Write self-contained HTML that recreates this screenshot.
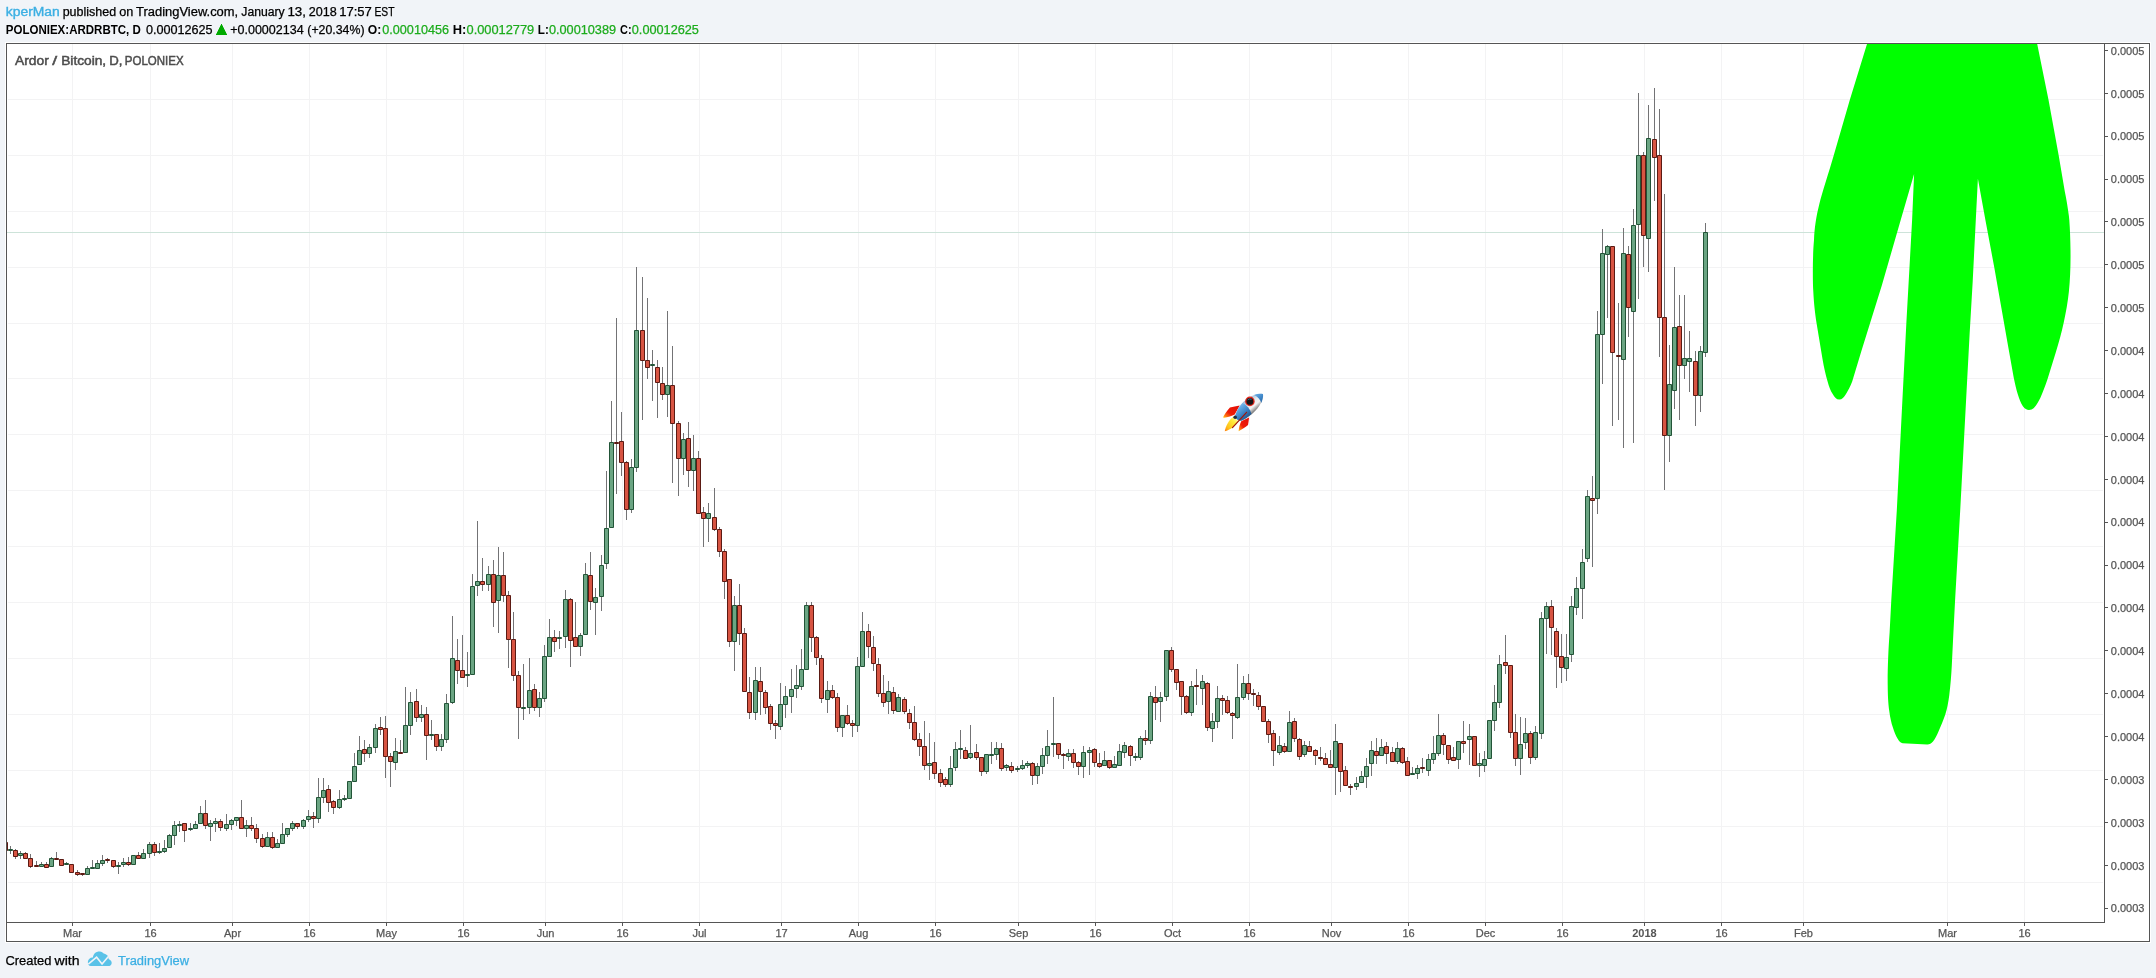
<!DOCTYPE html>
<html><head><meta charset="utf-8"><title>ARDRBTC chart</title>
<style>html,body{margin:0;padding:0;background:#F1F4F8;width:2156px;height:978px;overflow:hidden}</style></head>
<body>
<svg width="2156" height="978" viewBox="0 0 2156 978" style="position:absolute;left:0;top:0;will-change:transform;font-family:'Liberation Sans',sans-serif">
<defs>
<clipPath id="pane"><rect x="7" y="44" width="2097" height="878"/></clipPath>
<linearGradient id="rb" gradientUnits="userSpaceOnUse" x1="533" y1="308" x2="687" y2="492"><stop offset="0" stop-color="#9dbbd6"/><stop offset="0.35" stop-color="#e9edf0"/><stop offset="0.6" stop-color="#f2f2f2"/><stop offset="0.85" stop-color="#8c8c8c"/><stop offset="1" stop-color="#4f4f4f"/></linearGradient>
<linearGradient id="rbl" gradientUnits="userSpaceOnUse" x1="533" y1="308" x2="687" y2="492"><stop offset="0" stop-color="#74b8ee"/><stop offset="0.5" stop-color="#3c84c6"/><stop offset="1" stop-color="#1d4c82"/></linearGradient>
<linearGradient id="rfin" x1="1" y1="0" x2="0" y2="1"><stop offset="0" stop-color="#e30d05"/><stop offset="0.62" stop-color="#ee1c08"/><stop offset="0.85" stop-color="#ff7a10"/><stop offset="1" stop-color="#ffd21a"/></linearGradient>
<linearGradient id="rfl" x1="1" y1="0" x2="0" y2="1"><stop offset="0" stop-color="#fffbd0"/><stop offset="0.35" stop-color="#ffec3a"/><stop offset="0.75" stop-color="#ffc21a"/><stop offset="1" stop-color="#ff7a10"/></linearGradient>
</defs>
<rect x="0" y="0" width="2156" height="978" fill="#F1F4F8"/>
<rect x="5" y="42" width="2146" height="901" fill="#ffffff"/>
<rect x="6.5" y="43.5" width="2143" height="898" fill="none" stroke="#555555" stroke-width="1"/>
<g stroke="#F3F3F4" stroke-width="1" shape-rendering="crispEdges">
<line x1="72.5" y1="44" x2="72.5" y2="922"/>
<line x1="150.5" y1="44" x2="150.5" y2="922"/>
<line x1="232.5" y1="44" x2="232.5" y2="922"/>
<line x1="309.5" y1="44" x2="309.5" y2="922"/>
<line x1="386.5" y1="44" x2="386.5" y2="922"/>
<line x1="463.5" y1="44" x2="463.5" y2="922"/>
<line x1="545.5" y1="44" x2="545.5" y2="922"/>
<line x1="622.5" y1="44" x2="622.5" y2="922"/>
<line x1="699.5" y1="44" x2="699.5" y2="922"/>
<line x1="781.5" y1="44" x2="781.5" y2="922"/>
<line x1="858.5" y1="44" x2="858.5" y2="922"/>
<line x1="935.5" y1="44" x2="935.5" y2="922"/>
<line x1="1018.5" y1="44" x2="1018.5" y2="922"/>
<line x1="1095.5" y1="44" x2="1095.5" y2="922"/>
<line x1="1172.5" y1="44" x2="1172.5" y2="922"/>
<line x1="1249.5" y1="44" x2="1249.5" y2="922"/>
<line x1="1331.5" y1="44" x2="1331.5" y2="922"/>
<line x1="1408.5" y1="44" x2="1408.5" y2="922"/>
<line x1="1485.5" y1="44" x2="1485.5" y2="922"/>
<line x1="1562.5" y1="44" x2="1562.5" y2="922"/>
<line x1="1644.5" y1="44" x2="1644.5" y2="922"/>
<line x1="1721.5" y1="44" x2="1721.5" y2="922"/>
<line x1="1803.5" y1="44" x2="1803.5" y2="922"/>
<line x1="1947.5" y1="44" x2="1947.5" y2="922"/>
<line x1="2024.5" y1="44" x2="2024.5" y2="922"/>
<line x1="8" y1="99.5" x2="2103" y2="99.5"/>
<line x1="8" y1="155.5" x2="2103" y2="155.5"/>
<line x1="8" y1="211.5" x2="2103" y2="211.5"/>
<line x1="8" y1="267.5" x2="2103" y2="267.5"/>
<line x1="8" y1="323.5" x2="2103" y2="323.5"/>
<line x1="8" y1="378.5" x2="2103" y2="378.5"/>
<line x1="8" y1="434.5" x2="2103" y2="434.5"/>
<line x1="8" y1="490.5" x2="2103" y2="490.5"/>
<line x1="8" y1="546.5" x2="2103" y2="546.5"/>
<line x1="8" y1="602.5" x2="2103" y2="602.5"/>
<line x1="8" y1="658.5" x2="2103" y2="658.5"/>
<line x1="8" y1="714.5" x2="2103" y2="714.5"/>
<line x1="8" y1="770.5" x2="2103" y2="770.5"/>
<line x1="8" y1="826.5" x2="2103" y2="826.5"/>
<line x1="8" y1="882.5" x2="2103" y2="882.5"/>
</g>
<line x1="7" y1="232.5" x2="2104" y2="232.5" stroke="#CDE3D9" stroke-width="1" shape-rendering="crispEdges"/>
<g clip-path="url(#pane)">
<path d="M5.5 842V851M10.5 846V854M15.5 849V859M20.5 851V859M25.5 852V859M30.5 854V868M36.5 861V867M41.5 862V867M46.5 862V868M51.5 857V867M56.5 852V860M61.5 859V866M66.5 862V865M71.5 864V873M77.5 870V876M82.5 873V876M87.5 866V875M92.5 860V869M97.5 860V869M102.5 855V866M107.5 858V863M113.5 860V868M118.5 862V874M123.5 858V867M128.5 857V866M133.5 855V865M138.5 852V859M143.5 849V859M149.5 842V858M154.5 842V856M159.5 843V854M164.5 840V853M169.5 834V848M174.5 821V845M179.5 821V832M184.5 823V842M190.5 823V831M195.5 821V829M200.5 806V824M205.5 800V829M210.5 820V841M215.5 818V832M220.5 819V831M226.5 814V831M231.5 819V830M236.5 817V826M241.5 800V829M246.5 820V837M251.5 817V831M256.5 824V843M262.5 834V848M267.5 832V847M272.5 832V849M277.5 839V848M282.5 823V844M287.5 828V837M292.5 821V831M297.5 823V829M303.5 819V829M308.5 810V822M313.5 812V828M318.5 778V823M323.5 778V803M328.5 785V812M333.5 800V814M339.5 790V809M344.5 795V801M349.5 781V799M354.5 753V782M359.5 736V765M364.5 740V762M369.5 744V758M375.5 724V753M380.5 717V735M385.5 716V778M390.5 753V787M395.5 738V770M400.5 740V754M405.5 687V753M410.5 692V735M416.5 689V722M421.5 705V722M426.5 707V760M431.5 720V740M436.5 734V751M441.5 734V751M446.5 694V743M452.5 616V704M457.5 639V684M462.5 635V678M467.5 652V687M472.5 574V675M477.5 521V596M482.5 558V591M488.5 566V591M493.5 560V627M498.5 547V633M503.5 552V602M508.5 591V668M513.5 612V681M518.5 671V739M523.5 664V720M529.5 658V714M534.5 684V711M539.5 692V717M544.5 645V702M549.5 619V657M554.5 630V652M559.5 631V649M565.5 590V648M570.5 598V667M575.5 602V647M580.5 633V656M585.5 563V635M590.5 552V610M595.5 588V635M601.5 555V611M606.5 471V569M611.5 401V528M616.5 318V494M621.5 412V476M626.5 461V520M631.5 459V513M636.5 267V472M642.5 277V420M647.5 298V379M652.5 350V401M657.5 360V418M662.5 367V400M667.5 311V417M672.5 346V483M678.5 421V496M683.5 433V475M688.5 422V487M693.5 435V491M698.5 451V514M703.5 507V547M708.5 503V542M714.5 488V531M719.5 527V557M724.5 549V599M729.5 579V647M734.5 596V671M739.5 584V645M744.5 628V692M749.5 677V719M755.5 667V720M760.5 667V715M765.5 690V714M770.5 704V730M775.5 720V739M780.5 683V730M785.5 686V718M791.5 669V713M796.5 665V698M801.5 649V690M806.5 602V670M811.5 602V652M816.5 636V665M821.5 655V703M827.5 681V713M832.5 685V699M837.5 693V732M842.5 715V737M847.5 705V725M852.5 720V737M857.5 657V732M862.5 612V667M868.5 624V658M873.5 636V671M878.5 658V697M883.5 675V707M888.5 681V714M893.5 687V714M898.5 694V712M904.5 697V714M909.5 709V729M914.5 706V741M919.5 733V756M924.5 721V770M929.5 733V780M934.5 742V779M940.5 769V787M945.5 777V787M950.5 756V787M955.5 742V771M960.5 730V759M965.5 747V759M970.5 725V759M976.5 744V760M981.5 757V776M986.5 754V774M991.5 742V764M996.5 742V760M1001.5 743V771M1006.5 764V771M1011.5 762V773M1017.5 766V772M1022.5 760V770M1027.5 761V768M1032.5 762V785M1037.5 763V784M1042.5 748V774M1047.5 730V764M1053.5 697V757M1058.5 743V759M1063.5 753V769M1068.5 749V761M1073.5 749V768M1078.5 761V775M1083.5 746V778M1089.5 747V775M1094.5 748V767M1099.5 753V768M1104.5 751V766M1109.5 760V769M1114.5 756V768M1119.5 744V766M1124.5 742V758M1130.5 745V766M1135.5 753V761M1140.5 736V760M1145.5 730V745M1150.5 692V744M1155.5 686V720M1160.5 692V722M1166.5 650V701M1171.5 647V672M1176.5 669V690M1181.5 681V715M1186.5 695V714M1191.5 681V716M1196.5 669V705M1202.5 675V705M1207.5 682V731M1212.5 713V742M1217.5 686V728M1222.5 695V715M1227.5 696V714M1232.5 712V739M1237.5 664V719M1243.5 676V700M1248.5 674V700M1253.5 689V706M1258.5 692V710M1263.5 706V722M1268.5 719V743M1273.5 730V766M1279.5 736V755M1284.5 743V753M1289.5 711V752M1294.5 718V742M1299.5 738V760M1304.5 741V757M1309.5 741V752M1315.5 749V765M1320.5 747V761M1325.5 753V765M1330.5 750V768M1335.5 724V795M1340.5 743V792M1345.5 766V786M1350.5 784V795M1356.5 777V790M1361.5 771V783M1366.5 758V788M1371.5 741V776M1376.5 738V764M1381.5 739V756M1386.5 742V764M1392.5 747V762M1397.5 742V764M1402.5 747V764M1407.5 757V776M1412.5 767V775M1417.5 765V779M1422.5 758V773M1428.5 754V776M1433.5 736V764M1438.5 714V756M1443.5 733V755M1448.5 745V764M1453.5 747V761M1458.5 741V769M1463.5 721V753M1469.5 724V765M1474.5 736V766M1479.5 753V777M1484.5 751V772M1489.5 720V759M1494.5 685V731M1499.5 655V708M1505.5 635V674M1510.5 665V738M1515.5 714V766M1520.5 717V775M1525.5 718V749M1530.5 731V764M1535.5 726V760M1541.5 612V739M1546.5 602V654M1551.5 600V655M1556.5 628V688M1561.5 634V683M1566.5 634V681M1571.5 596V662M1576.5 577V615M1582.5 549V619M1587.5 490V562M1592.5 476V567M1597.5 311V514M1602.5 229V384M1607.5 245V318M1612.5 246V426M1618.5 303V420M1623.5 228V448M1628.5 246V337M1633.5 209V443M1638.5 93V299M1643.5 152V267M1648.5 105V272M1654.5 88V201M1659.5 109V357M1664.5 194V490M1669.5 345V462M1674.5 267V409M1679.5 295V420M1684.5 295V379M1689.5 331V392M1695.5 351V426M1700.5 346V412M1705.5 223V357" stroke="#737375" stroke-width="1" fill="none"/>
<path d="M8.5 849.5H12.5V850.5H8.5ZM18.5 853.5H22.5V855.5H18.5ZM39.5 864.5H43.5V866.5H39.5ZM49.5 858.5H53.5V866.5H49.5ZM64.5 863.5H68.5V864.5H64.5ZM85.5 868.5H89.5V874.5H85.5ZM90.5 867.5H94.5V868.5H90.5ZM95.5 863.5H99.5V868.5H95.5ZM100.5 860.5H104.5V863.5H100.5ZM116.5 865.5H120.5V866.5H116.5ZM121.5 862.5H125.5V864.5H121.5ZM131.5 855.5H135.5V864.5H131.5ZM141.5 853.5H145.5V858.5H141.5ZM147.5 844.5H151.5V853.5H147.5ZM157.5 851.5H161.5V852.5H157.5ZM162.5 848.5H166.5V851.5H162.5ZM167.5 835.5H171.5V847.5H167.5ZM172.5 825.5H176.5V835.5H172.5ZM177.5 824.5H181.5V825.5H177.5ZM188.5 828.5H192.5V829.5H188.5ZM193.5 824.5H197.5V828.5H193.5ZM198.5 813.5H202.5V823.5H198.5ZM208.5 823.5H212.5V826.5H208.5ZM213.5 821.5H217.5V823.5H213.5ZM224.5 824.5H228.5V828.5H224.5ZM229.5 820.5H233.5V824.5H229.5ZM234.5 817.5H238.5V820.5H234.5ZM244.5 825.5H248.5V828.5H244.5ZM265.5 837.5H269.5V846.5H265.5ZM275.5 843.5H279.5V847.5H275.5ZM280.5 834.5H284.5V843.5H280.5ZM285.5 828.5H289.5V834.5H285.5ZM290.5 823.5H294.5V828.5H290.5ZM301.5 820.5H305.5V826.5H301.5ZM306.5 816.5H310.5V819.5H306.5ZM316.5 797.5H320.5V818.5H316.5ZM321.5 790.5H325.5V797.5H321.5ZM337.5 799.5H341.5V807.5H337.5ZM342.5 798.5H346.5V799.5H342.5ZM347.5 781.5H351.5V798.5H347.5ZM352.5 766.5H356.5V781.5H352.5ZM357.5 750.5H361.5V764.5H357.5ZM367.5 747.5H371.5V753.5H367.5ZM373.5 728.5H377.5V747.5H373.5ZM393.5 751.5H397.5V762.5H393.5ZM403.5 725.5H407.5V752.5H403.5ZM408.5 702.5H412.5V725.5H408.5ZM419.5 714.5H423.5V717.5H419.5ZM429.5 734.5H433.5V735.5H429.5ZM439.5 739.5H443.5V746.5H439.5ZM444.5 703.5H448.5V739.5H444.5ZM450.5 658.5H454.5V702.5H450.5ZM465.5 674.5H469.5V675.5H465.5ZM470.5 586.5H474.5V674.5H470.5ZM475.5 581.5H479.5V585.5H475.5ZM486.5 574.5H490.5V584.5H486.5ZM496.5 575.5H500.5V600.5H496.5ZM521.5 707.5H525.5V708.5H521.5ZM527.5 690.5H531.5V707.5H527.5ZM537.5 698.5H541.5V707.5H537.5ZM542.5 656.5H546.5V698.5H542.5ZM547.5 637.5H551.5V656.5H547.5ZM557.5 637.5H561.5V638.5H557.5ZM563.5 599.5H567.5V636.5H563.5ZM578.5 635.5H582.5V646.5H578.5ZM583.5 574.5H587.5V634.5H583.5ZM593.5 597.5H597.5V602.5H593.5ZM599.5 565.5H603.5V596.5H599.5ZM604.5 528.5H608.5V563.5H604.5ZM609.5 442.5H613.5V527.5H609.5ZM629.5 467.5H633.5V509.5H629.5ZM634.5 330.5H638.5V467.5H634.5ZM650.5 364.5H654.5V365.5H650.5ZM665.5 385.5H669.5V394.5H665.5ZM681.5 439.5H685.5V458.5H681.5ZM691.5 458.5H695.5V470.5H691.5ZM706.5 513.5H710.5V518.5H706.5ZM732.5 605.5H736.5V641.5H732.5ZM753.5 680.5H757.5V712.5H753.5ZM778.5 704.5H782.5V726.5H778.5ZM783.5 696.5H787.5V704.5H783.5ZM789.5 689.5H793.5V696.5H789.5ZM794.5 685.5H798.5V688.5H794.5ZM799.5 669.5H803.5V686.5H799.5ZM804.5 605.5H808.5V669.5H804.5ZM825.5 690.5H829.5V699.5H825.5ZM840.5 715.5H844.5V727.5H840.5ZM855.5 666.5H859.5V725.5H855.5ZM860.5 631.5H864.5V666.5H860.5ZM886.5 691.5H890.5V701.5H886.5ZM896.5 697.5H900.5V711.5H896.5ZM927.5 763.5H931.5V765.5H927.5ZM948.5 768.5H952.5V784.5H948.5ZM953.5 749.5H957.5V767.5H953.5ZM958.5 748.5H962.5V749.5H958.5ZM968.5 753.5H972.5V757.5H968.5ZM984.5 754.5H988.5V771.5H984.5ZM989.5 754.5H993.5V755.5H989.5ZM994.5 748.5H998.5V754.5H994.5ZM1004.5 765.5H1008.5V767.5H1004.5ZM1015.5 768.5H1019.5V769.5H1015.5ZM1020.5 765.5H1024.5V768.5H1020.5ZM1025.5 763.5H1029.5V765.5H1025.5ZM1035.5 766.5H1039.5V775.5H1035.5ZM1040.5 755.5H1044.5V766.5H1040.5ZM1045.5 746.5H1049.5V755.5H1045.5ZM1051.5 743.5H1055.5V744.5H1051.5ZM1066.5 753.5H1070.5V756.5H1066.5ZM1081.5 752.5H1085.5V766.5H1081.5ZM1087.5 750.5H1091.5V752.5H1087.5ZM1102.5 760.5H1106.5V765.5H1102.5ZM1112.5 764.5H1116.5V767.5H1112.5ZM1117.5 751.5H1121.5V765.5H1117.5ZM1122.5 745.5H1126.5V752.5H1122.5ZM1133.5 756.5H1137.5V757.5H1133.5ZM1138.5 738.5H1142.5V757.5H1138.5ZM1148.5 696.5H1152.5V740.5H1148.5ZM1158.5 697.5H1162.5V701.5H1158.5ZM1164.5 650.5H1168.5V696.5H1164.5ZM1189.5 686.5H1193.5V712.5H1189.5ZM1200.5 681.5H1204.5V688.5H1200.5ZM1210.5 721.5H1214.5V728.5H1210.5ZM1215.5 698.5H1219.5V721.5H1215.5ZM1235.5 697.5H1239.5V717.5H1235.5ZM1241.5 683.5H1245.5V697.5H1241.5ZM1277.5 745.5H1281.5V752.5H1277.5ZM1287.5 722.5H1291.5V751.5H1287.5ZM1302.5 745.5H1306.5V754.5H1302.5ZM1333.5 741.5H1337.5V767.5H1333.5ZM1354.5 783.5H1358.5V786.5H1354.5ZM1359.5 776.5H1363.5V782.5H1359.5ZM1364.5 766.5H1368.5V776.5H1364.5ZM1369.5 750.5H1373.5V763.5H1369.5ZM1379.5 747.5H1383.5V755.5H1379.5ZM1395.5 748.5H1399.5V761.5H1395.5ZM1410.5 773.5H1414.5V774.5H1410.5ZM1415.5 768.5H1419.5V773.5H1415.5ZM1426.5 759.5H1430.5V770.5H1426.5ZM1431.5 753.5H1435.5V759.5H1431.5ZM1436.5 735.5H1440.5V753.5H1436.5ZM1456.5 741.5H1460.5V759.5H1456.5ZM1467.5 736.5H1471.5V739.5H1467.5ZM1477.5 763.5H1481.5V765.5H1477.5ZM1482.5 759.5H1486.5V765.5H1482.5ZM1487.5 720.5H1491.5V758.5H1487.5ZM1492.5 702.5H1496.5V720.5H1492.5ZM1497.5 664.5H1501.5V702.5H1497.5ZM1518.5 744.5H1522.5V758.5H1518.5ZM1523.5 733.5H1527.5V742.5H1523.5ZM1533.5 732.5H1537.5V757.5H1533.5ZM1539.5 618.5H1543.5V733.5H1539.5ZM1544.5 606.5H1548.5V618.5H1544.5ZM1564.5 657.5H1568.5V668.5H1564.5ZM1569.5 606.5H1573.5V654.5H1569.5ZM1574.5 588.5H1578.5V607.5H1574.5ZM1580.5 562.5H1584.5V588.5H1580.5ZM1585.5 496.5H1589.5V558.5H1585.5ZM1595.5 334.5H1599.5V498.5H1595.5ZM1600.5 253.5H1604.5V334.5H1600.5ZM1605.5 246.5H1609.5V254.5H1605.5ZM1621.5 253.5H1625.5V359.5H1621.5ZM1631.5 225.5H1635.5V311.5H1631.5ZM1636.5 155.5H1640.5V224.5H1636.5ZM1646.5 138.5H1650.5V238.5H1646.5ZM1667.5 384.5H1671.5V435.5H1667.5ZM1672.5 327.5H1676.5V390.5H1672.5ZM1682.5 358.5H1686.5V365.5H1682.5ZM1687.5 358.5H1691.5V361.5H1687.5ZM1698.5 351.5H1702.5V395.5H1698.5ZM1703.5 232.5H1707.5V352.5H1703.5Z" fill="#6BA583" stroke="#225437" stroke-width="1"/>
<path d="M3.5 842.5H7.5V850.5H3.5ZM13.5 850.5H17.5V856.5H13.5ZM23.5 853.5H27.5V858.5H23.5ZM28.5 858.5H32.5V866.5H28.5ZM34.5 865.5H38.5V866.5H34.5ZM44.5 864.5H48.5V867.5H44.5ZM54.5 858.5H58.5V859.5H54.5ZM59.5 859.5H63.5V865.5H59.5ZM69.5 864.5H73.5V872.5H69.5ZM75.5 872.5H79.5V874.5H75.5ZM80.5 873.5H84.5V874.5H80.5ZM105.5 859.5H109.5V860.5H105.5ZM111.5 860.5H115.5V866.5H111.5ZM126.5 862.5H130.5V864.5H126.5ZM136.5 855.5H140.5V858.5H136.5ZM152.5 844.5H156.5V852.5H152.5ZM182.5 823.5H186.5V830.5H182.5ZM203.5 813.5H207.5V825.5H203.5ZM218.5 821.5H222.5V827.5H218.5ZM239.5 817.5H243.5V828.5H239.5ZM249.5 825.5H253.5V828.5H249.5ZM254.5 828.5H258.5V838.5H254.5ZM260.5 838.5H264.5V846.5H260.5ZM270.5 837.5H274.5V847.5H270.5ZM295.5 823.5H299.5V826.5H295.5ZM311.5 816.5H315.5V818.5H311.5ZM326.5 789.5H330.5V802.5H326.5ZM331.5 801.5H335.5V807.5H331.5ZM362.5 749.5H366.5V753.5H362.5ZM378.5 727.5H382.5V729.5H378.5ZM383.5 728.5H387.5V756.5H383.5ZM388.5 756.5H392.5V761.5H388.5ZM398.5 752.5H402.5V753.5H398.5ZM414.5 701.5H418.5V717.5H414.5ZM424.5 714.5H428.5V735.5H424.5ZM434.5 734.5H438.5V746.5H434.5ZM455.5 660.5H459.5V670.5H455.5ZM460.5 670.5H464.5V677.5H460.5ZM480.5 581.5H484.5V584.5H480.5ZM491.5 574.5H495.5V602.5H491.5ZM501.5 575.5H505.5V595.5H501.5ZM506.5 595.5H510.5V639.5H506.5ZM511.5 639.5H515.5V675.5H511.5ZM516.5 675.5H520.5V707.5H516.5ZM532.5 689.5H536.5V707.5H532.5ZM552.5 637.5H556.5V641.5H552.5ZM568.5 599.5H572.5V640.5H568.5ZM573.5 637.5H577.5V646.5H573.5ZM588.5 575.5H592.5V601.5H588.5ZM614.5 442.5H618.5V443.5H614.5ZM619.5 441.5H623.5V462.5H619.5ZM624.5 462.5H628.5V509.5H624.5ZM640.5 330.5H644.5V360.5H640.5ZM645.5 360.5H649.5V367.5H645.5ZM655.5 367.5H659.5V382.5H655.5ZM660.5 383.5H664.5V394.5H660.5ZM670.5 385.5H674.5V423.5H670.5ZM676.5 423.5H680.5V458.5H676.5ZM686.5 438.5H690.5V470.5H686.5ZM696.5 458.5H700.5V513.5H696.5ZM701.5 512.5H705.5V518.5H701.5ZM712.5 517.5H716.5V529.5H712.5ZM717.5 529.5H721.5V551.5H717.5ZM722.5 551.5H726.5V581.5H722.5ZM727.5 579.5H731.5V641.5H727.5ZM737.5 605.5H741.5V633.5H737.5ZM742.5 633.5H746.5V691.5H742.5ZM747.5 692.5H751.5V712.5H747.5ZM758.5 681.5H762.5V691.5H758.5ZM763.5 692.5H767.5V707.5H763.5ZM768.5 706.5H772.5V723.5H768.5ZM773.5 723.5H777.5V725.5H773.5ZM809.5 605.5H813.5V637.5H809.5ZM814.5 637.5H818.5V657.5H814.5ZM819.5 658.5H823.5V698.5H819.5ZM830.5 690.5H834.5V697.5H830.5ZM835.5 697.5H839.5V727.5H835.5ZM845.5 715.5H849.5V723.5H845.5ZM850.5 723.5H854.5V725.5H850.5ZM866.5 631.5H870.5V646.5H866.5ZM871.5 647.5H875.5V663.5H871.5ZM876.5 664.5H880.5V693.5H876.5ZM881.5 693.5H885.5V702.5H881.5ZM891.5 692.5H895.5V710.5H891.5ZM902.5 699.5H906.5V711.5H902.5ZM907.5 713.5H911.5V722.5H907.5ZM912.5 722.5H916.5V739.5H912.5ZM917.5 739.5H921.5V746.5H917.5ZM922.5 746.5H926.5V765.5H922.5ZM932.5 762.5H936.5V773.5H932.5ZM938.5 773.5H942.5V782.5H938.5ZM943.5 779.5H947.5V784.5H943.5ZM963.5 750.5H967.5V758.5H963.5ZM974.5 752.5H978.5V757.5H974.5ZM979.5 757.5H983.5V771.5H979.5ZM999.5 748.5H1003.5V768.5H999.5ZM1009.5 766.5H1013.5V770.5H1009.5ZM1030.5 763.5H1034.5V775.5H1030.5ZM1056.5 743.5H1060.5V754.5H1056.5ZM1061.5 754.5H1065.5V755.5H1061.5ZM1071.5 753.5H1075.5V762.5H1071.5ZM1076.5 762.5H1080.5V766.5H1076.5ZM1092.5 749.5H1096.5V762.5H1092.5ZM1097.5 763.5H1101.5V766.5H1097.5ZM1107.5 760.5H1111.5V767.5H1107.5ZM1128.5 746.5H1132.5V755.5H1128.5ZM1143.5 738.5H1147.5V740.5H1143.5ZM1153.5 697.5H1157.5V702.5H1153.5ZM1169.5 650.5H1173.5V669.5H1169.5ZM1174.5 669.5H1178.5V682.5H1174.5ZM1179.5 681.5H1183.5V696.5H1179.5ZM1184.5 696.5H1188.5V712.5H1184.5ZM1194.5 685.5H1198.5V686.5H1194.5ZM1205.5 683.5H1209.5V727.5H1205.5ZM1220.5 698.5H1224.5V700.5H1220.5ZM1225.5 700.5H1229.5V712.5H1225.5ZM1230.5 713.5H1234.5V715.5H1230.5ZM1246.5 683.5H1250.5V693.5H1246.5ZM1251.5 693.5H1255.5V694.5H1251.5ZM1256.5 695.5H1260.5V706.5H1256.5ZM1261.5 706.5H1265.5V721.5H1261.5ZM1266.5 721.5H1270.5V734.5H1266.5ZM1271.5 733.5H1275.5V750.5H1271.5ZM1282.5 746.5H1286.5V751.5H1282.5ZM1292.5 721.5H1296.5V738.5H1292.5ZM1297.5 739.5H1301.5V756.5H1297.5ZM1307.5 746.5H1311.5V751.5H1307.5ZM1313.5 750.5H1317.5V755.5H1313.5ZM1318.5 757.5H1322.5V758.5H1318.5ZM1323.5 758.5H1327.5V764.5H1323.5ZM1328.5 764.5H1332.5V767.5H1328.5ZM1338.5 743.5H1342.5V771.5H1338.5ZM1343.5 770.5H1347.5V785.5H1343.5ZM1348.5 786.5H1352.5V787.5H1348.5ZM1374.5 751.5H1378.5V755.5H1374.5ZM1384.5 746.5H1388.5V753.5H1384.5ZM1390.5 752.5H1394.5V761.5H1390.5ZM1400.5 748.5H1404.5V762.5H1400.5ZM1405.5 761.5H1409.5V775.5H1405.5ZM1420.5 767.5H1424.5V768.5H1420.5ZM1441.5 735.5H1445.5V744.5H1441.5ZM1446.5 745.5H1450.5V759.5H1446.5ZM1451.5 757.5H1455.5V760.5H1451.5ZM1461.5 741.5H1465.5V743.5H1461.5ZM1472.5 736.5H1476.5V765.5H1472.5ZM1503.5 662.5H1507.5V665.5H1503.5ZM1508.5 665.5H1512.5V732.5H1508.5ZM1513.5 732.5H1517.5V758.5H1513.5ZM1528.5 733.5H1532.5V757.5H1528.5ZM1549.5 606.5H1553.5V627.5H1549.5ZM1554.5 631.5H1558.5V656.5H1554.5ZM1559.5 656.5H1563.5V667.5H1559.5ZM1590.5 498.5H1594.5V500.5H1590.5ZM1610.5 246.5H1614.5V352.5H1610.5ZM1616.5 355.5H1620.5V356.5H1616.5ZM1626.5 254.5H1630.5V307.5H1626.5ZM1641.5 155.5H1645.5V235.5H1641.5ZM1652.5 139.5H1656.5V157.5H1652.5ZM1657.5 155.5H1661.5V317.5H1657.5ZM1662.5 317.5H1666.5V435.5H1662.5ZM1677.5 326.5H1681.5V365.5H1677.5ZM1693.5 361.5H1697.5V395.5H1693.5Z" fill="#D75442" stroke="#5B1A13" stroke-width="1"/>
<path d="M1867 44 L1850 99.3 L1833.7 155.6 C1829 172 1822 193 1819.4 203.7 C1816 217 1814.5 228 1814 240 C1812.6 255 1812.6 280 1813.3 291.6 C1814 305 1815 312 1816.4 322.3 L1822.5 359 C1824 368 1825.5 374 1827.6 381.6 C1829 387 1830.5 391 1832.7 394 C1834.5 397.5 1836.5 399.6 1839.3 399.6 C1842 399.6 1844 397.5 1846 394 C1848.5 390 1850 387 1852.2 381.6 L1861.4 351 L1881.8 285.5 L1900.7 220 L1914.1 174 L1912.1 220 L1909.5 267 L1906.4 322.3 L1902.4 400 L1896.8 510.5 L1891.3 600 L1889.6 632.7 C1888.3 650 1887.5 672 1887.7 685 C1887.8 696 1888.2 703 1889.3 711.2 C1890.2 718 1891.3 722.5 1892.9 727.6 C1894.3 732 1895.8 735.8 1897.8 739 C1899.3 741.6 1900.8 743 1902.7 743.3 L1927.3 744.5 C1929.5 744.5 1931.3 743.5 1933 741.5 C1935 739 1936.8 735.5 1938.7 730.9 C1941 725.5 1943.3 720.5 1945.3 714.5 C1947 709 1948.4 702 1949.3 694.9 C1950.5 685 1951.3 675 1951.8 665.4 L1953.4 632.7 L1955.1 600 L1960.2 510.5 L1966.1 400 L1969.7 332.5 L1972.7 281.4 L1975.8 220 L1977.9 178.7 L1985.4 220 L1994.2 267 L2001.4 308 L2007.5 342.8 L2013.7 377.5 C2015 384 2016.2 389 2017.7 393.9 C2019.2 399 2020.8 403 2022.9 406.2 C2024.8 408.8 2026.8 409.9 2029 409.9 C2031 409.9 2032.8 409 2034.5 407.2 C2036.5 405 2038.3 402 2040.3 398 C2043 392 2045 386.5 2047.4 379.6 L2055.6 353 C2059 342 2061.5 333 2063.8 322.3 C2066 312 2067.8 302 2068.9 291.6 C2070.2 279 2070.7 264 2070.5 250.7 C2070.4 240 2070 230 2069.3 220 L2068.9 216 C2067.7 207 2066.4 199 2064.8 191.4 L2058.7 155.6 L2048.4 99.3 L2037.2 44 Z" fill="#00FF00"/>
</g>
<g transform="translate(1210,380) scale(0.06649)">
<path d="M345 555 C285 600 232 700 222 772 C300 745 395 690 430 615 Z" fill="url(#rfl)"/>
<path d="M447 383 C395 395 345 405 300 415 C255 465 220 515 195 565 C250 572 330 540 372 520 Z" fill="url(#rfin)"/>
<path d="M587 563 C583 600 580 640 572 678 C530 715 480 745 430 770 C435 720 445 670 470 620 Z" fill="url(#rfin)"/>
<path d="M797 212 C700 185 520 275 430 420 C400 470 380 520 372 560 C390 590 430 610 468 612 C560 580 680 480 740 392 C780 330 806 262 797 212 Z" fill="url(#rb)"/>
<path d="M797 212 C760 200 710 205 662 226 C720 250 760 300 772 345 C792 300 804 250 797 212 Z" fill="url(#rbl)"/>
<path d="M492 345 C465 375 445 400 430 420 C400 470 380 520 372 560 C390 590 430 610 468 612 C520 592 575 555 625 512 C600 430 555 375 492 345 Z" fill="url(#rbl)"/>
<circle cx="600" cy="322" r="72" fill="#e3261a"/>
<circle cx="600" cy="322" r="52" fill="#151515"/>
<path d="M565 300 Q590 275 625 290" stroke="#5c8fc0" stroke-width="10" fill="none"/>
<path d="M550 486 L338 716" stroke="#a3150a" stroke-width="18" stroke-linecap="round"/>
<circle cx="378" cy="560" r="27" fill="#1d2b3a"/>
</g>
<g stroke="#555555" stroke-width="1" shape-rendering="crispEdges">
<line x1="2104.5" y1="44" x2="2104.5" y2="923"/>
<line x1="7" y1="922.5" x2="2105" y2="922.5"/>
<line x1="2105" y1="50.5" x2="2108" y2="50.5"/>
<line x1="2105" y1="93.5" x2="2108" y2="93.5"/>
<line x1="2105" y1="136.5" x2="2108" y2="136.5"/>
<line x1="2105" y1="179.5" x2="2108" y2="179.5"/>
<line x1="2105" y1="221.5" x2="2108" y2="221.5"/>
<line x1="2105" y1="264.5" x2="2108" y2="264.5"/>
<line x1="2105" y1="307.5" x2="2108" y2="307.5"/>
<line x1="2105" y1="350.5" x2="2108" y2="350.5"/>
<line x1="2105" y1="393.5" x2="2108" y2="393.5"/>
<line x1="2105" y1="436.5" x2="2108" y2="436.5"/>
<line x1="2105" y1="479.5" x2="2108" y2="479.5"/>
<line x1="2105" y1="522.5" x2="2108" y2="522.5"/>
<line x1="2105" y1="565.5" x2="2108" y2="565.5"/>
<line x1="2105" y1="607.5" x2="2108" y2="607.5"/>
<line x1="2105" y1="650.5" x2="2108" y2="650.5"/>
<line x1="2105" y1="693.5" x2="2108" y2="693.5"/>
<line x1="2105" y1="736.5" x2="2108" y2="736.5"/>
<line x1="2105" y1="779.5" x2="2108" y2="779.5"/>
<line x1="2105" y1="822.5" x2="2108" y2="822.5"/>
<line x1="2105" y1="865.5" x2="2108" y2="865.5"/>
<line x1="2105" y1="908.5" x2="2108" y2="908.5"/>
<line x1="72.5" y1="923" x2="72.5" y2="926"/>
<line x1="150.5" y1="923" x2="150.5" y2="926"/>
<line x1="232.5" y1="923" x2="232.5" y2="926"/>
<line x1="309.5" y1="923" x2="309.5" y2="926"/>
<line x1="386.5" y1="923" x2="386.5" y2="926"/>
<line x1="463.5" y1="923" x2="463.5" y2="926"/>
<line x1="545.5" y1="923" x2="545.5" y2="926"/>
<line x1="622.5" y1="923" x2="622.5" y2="926"/>
<line x1="699.5" y1="923" x2="699.5" y2="926"/>
<line x1="781.5" y1="923" x2="781.5" y2="926"/>
<line x1="858.5" y1="923" x2="858.5" y2="926"/>
<line x1="935.5" y1="923" x2="935.5" y2="926"/>
<line x1="1018.5" y1="923" x2="1018.5" y2="926"/>
<line x1="1095.5" y1="923" x2="1095.5" y2="926"/>
<line x1="1172.5" y1="923" x2="1172.5" y2="926"/>
<line x1="1249.5" y1="923" x2="1249.5" y2="926"/>
<line x1="1331.5" y1="923" x2="1331.5" y2="926"/>
<line x1="1408.5" y1="923" x2="1408.5" y2="926"/>
<line x1="1485.5" y1="923" x2="1485.5" y2="926"/>
<line x1="1562.5" y1="923" x2="1562.5" y2="926"/>
<line x1="1644.5" y1="923" x2="1644.5" y2="926"/>
<line x1="1721.5" y1="923" x2="1721.5" y2="926"/>
<line x1="1803.5" y1="923" x2="1803.5" y2="926"/>
<line x1="1947.5" y1="923" x2="1947.5" y2="926"/>
<line x1="2024.5" y1="923" x2="2024.5" y2="926"/>
</g>
<g fill="#555555" font-size="11" stroke="#555555" stroke-width="0.25">
<text x="2110.8" y="54.6">0.0005</text>
<text x="2110.8" y="97.5">0.0005</text>
<text x="2110.8" y="140.4">0.0005</text>
<text x="2110.8" y="183.3">0.0005</text>
<text x="2110.8" y="226.2">0.0005</text>
<text x="2110.8" y="269.0">0.0005</text>
<text x="2110.8" y="311.9">0.0005</text>
<text x="2110.8" y="354.8">0.0004</text>
<text x="2110.8" y="397.7">0.0004</text>
<text x="2110.8" y="440.6">0.0004</text>
<text x="2110.8" y="483.5">0.0004</text>
<text x="2110.8" y="526.4">0.0004</text>
<text x="2110.8" y="569.3">0.0004</text>
<text x="2110.8" y="612.2">0.0004</text>
<text x="2110.8" y="655.1">0.0004</text>
<text x="2110.8" y="698.0">0.0004</text>
<text x="2110.8" y="740.8">0.0004</text>
<text x="2110.8" y="783.7">0.0003</text>
<text x="2110.8" y="826.6">0.0003</text>
<text x="2110.8" y="869.5">0.0003</text>
<text x="2110.8" y="912.4">0.0003</text>
<text x="72.5" y="937" text-anchor="middle">Mar</text>
<text x="150.5" y="937" text-anchor="middle">16</text>
<text x="232.5" y="937" text-anchor="middle">Apr</text>
<text x="309.5" y="937" text-anchor="middle">16</text>
<text x="386.5" y="937" text-anchor="middle">May</text>
<text x="463.5" y="937" text-anchor="middle">16</text>
<text x="545.5" y="937" text-anchor="middle">Jun</text>
<text x="622.5" y="937" text-anchor="middle">16</text>
<text x="699.5" y="937" text-anchor="middle">Jul</text>
<text x="781.5" y="937" text-anchor="middle">17</text>
<text x="858.5" y="937" text-anchor="middle">Aug</text>
<text x="935.5" y="937" text-anchor="middle">16</text>
<text x="1018.5" y="937" text-anchor="middle">Sep</text>
<text x="1095.5" y="937" text-anchor="middle">16</text>
<text x="1172.5" y="937" text-anchor="middle">Oct</text>
<text x="1249.5" y="937" text-anchor="middle">16</text>
<text x="1331.5" y="937" text-anchor="middle">Nov</text>
<text x="1408.5" y="937" text-anchor="middle">16</text>
<text x="1485.5" y="937" text-anchor="middle">Dec</text>
<text x="1562.5" y="937" text-anchor="middle">16</text>
<text x="1644.5" y="937" text-anchor="middle" font-weight="bold" stroke-width="0">2018</text>
<text x="1721.5" y="937" text-anchor="middle">16</text>
<text x="1803.5" y="937" text-anchor="middle">Feb</text>
<text x="1947.5" y="937" text-anchor="middle">Mar</text>
<text x="2024.5" y="937" text-anchor="middle">16</text>
</g>
<text x="5.80" y="15.9" font-size="12" fill="#3BAFE3" stroke="#3BAFE3" stroke-width="0.35" textLength="54.00" lengthAdjust="spacingAndGlyphs" xml:space="preserve">kperMan</text>
<text x="62.70" y="15.9" font-size="12" fill="#000" stroke="#000" stroke-width="0.25" textLength="53.40" lengthAdjust="spacingAndGlyphs" xml:space="preserve">published</text>
<text x="119.20" y="15.9" font-size="12" fill="#000" stroke="#000" stroke-width="0.25" textLength="14.10" lengthAdjust="spacingAndGlyphs" xml:space="preserve">on</text>
<text x="136.10" y="15.9" font-size="12" fill="#000" stroke="#000" stroke-width="0.25" textLength="102.10" lengthAdjust="spacingAndGlyphs" xml:space="preserve">TradingView.com,</text>
<text x="241.30" y="15.9" font-size="12" fill="#000" stroke="#000" stroke-width="0.25" textLength="43.40" lengthAdjust="spacingAndGlyphs" xml:space="preserve">January</text>
<text x="287.40" y="15.9" font-size="12" fill="#000" stroke="#000" stroke-width="0.25" textLength="18.60" lengthAdjust="spacingAndGlyphs" xml:space="preserve">13,</text>
<text x="308.80" y="15.9" font-size="12" fill="#000" stroke="#000" stroke-width="0.25" textLength="28.00" lengthAdjust="spacingAndGlyphs" xml:space="preserve">2018</text>
<text x="339.20" y="15.9" font-size="12" fill="#000" stroke="#000" stroke-width="0.25" textLength="32.60" lengthAdjust="spacingAndGlyphs" xml:space="preserve">17:57</text>
<text x="374.50" y="15.9" font-size="12" fill="#000" stroke="#000" stroke-width="0.25" textLength="20.00" lengthAdjust="spacingAndGlyphs" xml:space="preserve">EST</text>
<text x="5.80" y="34.0" font-size="12.6" fill="#000" font-weight="bold" textLength="135.00" lengthAdjust="spacingAndGlyphs" xml:space="preserve">POLONIEX:ARDRBTC, D</text>
<text x="145.90" y="34.0" font-size="12.6" fill="#000" stroke="#000" stroke-width="0.25" textLength="66.70" lengthAdjust="spacingAndGlyphs" xml:space="preserve">0.00012625</text>
<text x="230.20" y="34.0" font-size="12.6" fill="#000" stroke="#000" stroke-width="0.25" textLength="73.40" lengthAdjust="spacingAndGlyphs" xml:space="preserve">+0.00002134</text>
<text x="307.30" y="34.0" font-size="12.6" fill="#000" stroke="#000" stroke-width="0.25" textLength="57.20" lengthAdjust="spacingAndGlyphs" xml:space="preserve">(+20.34%)</text>
<text x="367.80" y="34.0" font-size="12.6" fill="#000" font-weight="bold" textLength="13.50" lengthAdjust="spacingAndGlyphs" xml:space="preserve">O:</text>
<text x="382.30" y="34.0" font-size="12.6" fill="#1CAC1C" stroke="#1CAC1C" stroke-width="0.25" textLength="66.70" lengthAdjust="spacingAndGlyphs" xml:space="preserve">0.00010456</text>
<text x="452.70" y="34.0" font-size="12.6" fill="#000" font-weight="bold" textLength="13.60" lengthAdjust="spacingAndGlyphs" xml:space="preserve">H:</text>
<text x="466.50" y="34.0" font-size="12.6" fill="#1CAC1C" stroke="#1CAC1C" stroke-width="0.25" textLength="67.70" lengthAdjust="spacingAndGlyphs" xml:space="preserve">0.00012779</text>
<text x="537.80" y="34.0" font-size="12.6" fill="#000" font-weight="bold" textLength="11.00" lengthAdjust="spacingAndGlyphs" xml:space="preserve">L:</text>
<text x="548.90" y="34.0" font-size="12.6" fill="#1CAC1C" stroke="#1CAC1C" stroke-width="0.25" textLength="67.20" lengthAdjust="spacingAndGlyphs" xml:space="preserve">0.00010389</text>
<text x="620.10" y="34.0" font-size="12.6" fill="#000" font-weight="bold" textLength="11.50" lengthAdjust="spacingAndGlyphs" xml:space="preserve">C:</text>
<text x="631.80" y="34.0" font-size="12.6" fill="#1CAC1C" stroke="#1CAC1C" stroke-width="0.25" textLength="67.10" lengthAdjust="spacingAndGlyphs" xml:space="preserve">0.00012625</text>
<path d="M221.0 24h1.0v1h-1.0zM220.5 25h2.0v1h-2.0zM220.0 26h3.0v1h-3.0zM219.5 27h4.0v1h-4.0zM219.0 28h5.0v1h-5.0zM218.5 29h6.0v1h-6.0zM218.0 30h7.0v1h-7.0zM217.5 31h8.0v1h-8.0zM217.0 32h9.0v1h-9.0zM216.5 33h10.0v1h-10.0zM216.0 34h11.0v1h-11.0z" fill="#00AA00"/>
<text x="15.00" y="64.9" font-size="13" fill="#4d4d4d" stroke="#4d4d4d" stroke-width="0.5" textLength="33.80" lengthAdjust="spacingAndGlyphs" xml:space="preserve">Ardor</text>
<text x="52.30" y="64.9" font-size="13" fill="#4d4d4d" stroke="#4d4d4d" stroke-width="0.5" textLength="4.90" lengthAdjust="spacingAndGlyphs" xml:space="preserve">/</text>
<text x="61.20" y="64.9" font-size="13" fill="#4d4d4d" stroke="#4d4d4d" stroke-width="0.5" textLength="45.00" lengthAdjust="spacingAndGlyphs" xml:space="preserve">Bitcoin,</text>
<text x="109.20" y="64.9" font-size="13" fill="#4d4d4d" stroke="#4d4d4d" stroke-width="0.5" textLength="13.20" lengthAdjust="spacingAndGlyphs" xml:space="preserve">D,</text>
<text x="124.80" y="64.9" font-size="13" fill="#4d4d4d" stroke="#4d4d4d" stroke-width="0.5" textLength="58.80" lengthAdjust="spacingAndGlyphs" xml:space="preserve">POLONIEX</text>
<text x="5.40" y="964.9" font-size="12.5" fill="#000" stroke="#000" stroke-width="0.25" textLength="46.00" lengthAdjust="spacingAndGlyphs" xml:space="preserve">Created</text>
<text x="54.60" y="964.9" font-size="12.5" fill="#000" stroke="#000" stroke-width="0.25" textLength="25.00" lengthAdjust="spacingAndGlyphs" xml:space="preserve">with</text>
<text x="118.00" y="964.9" font-size="12.5" fill="#3BAFE3" stroke="#3BAFE3" stroke-width="0.25" textLength="71.00" lengthAdjust="spacingAndGlyphs" xml:space="preserve">TradingView</text>
<g transform="translate(80,944) scale(0.02863)">
<path d="M380 770 C300 770 268 690 275 620 C285 520 370 460 450 470 C470 330 580 255 690 265 C760 272 800 310 830 335 C900 350 960 390 985 440 L1000 520 C1080 560 1120 620 1105 680 C1090 745 1040 770 1000 770 Z" fill="#59C2E8"/>
<path d="M290 705 L580 462 L770 700 L1000 430" stroke="#F1F4F8" stroke-width="55" fill="none" stroke-linejoin="miter"/>
</g>
</svg>
</body></html>
